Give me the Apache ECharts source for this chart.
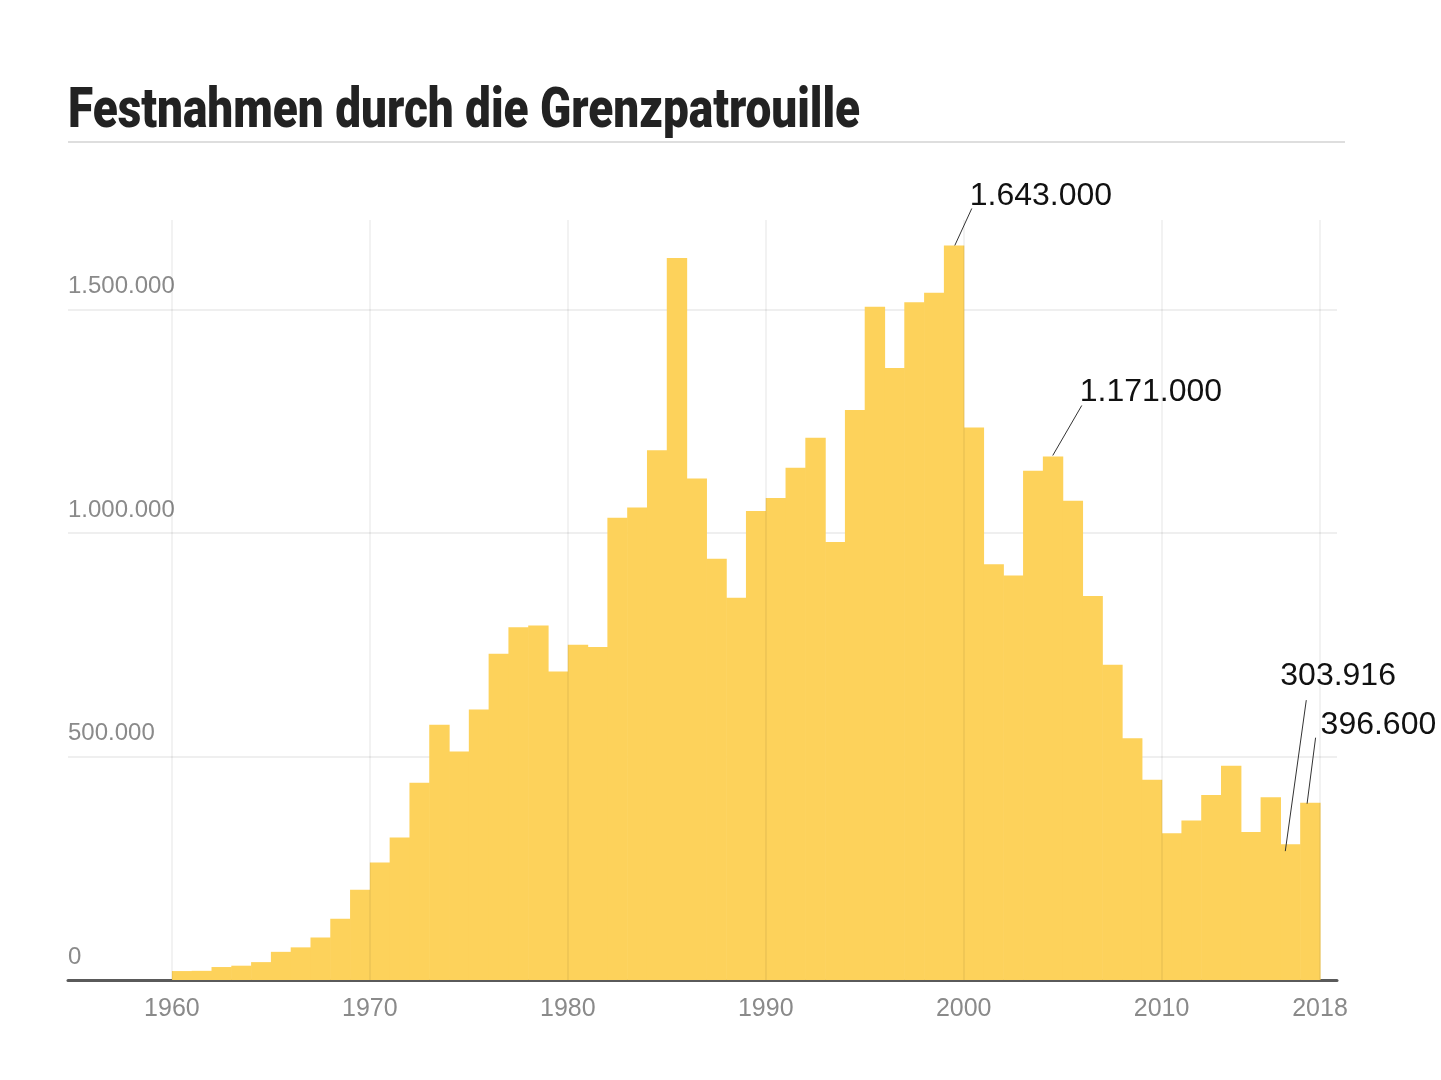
<!DOCTYPE html>
<html>
<head>
<meta charset="utf-8">
<script src="https://cdn.jsdelivr.net/npm/echarts@6/dist/echarts.min.js"></script>
<style>
html,body{margin:0;padding:0;background:#fff;}
#chart{width:1441px;height:1080px;}
</style>
</head>
<body>
<div id="chart"></div>
<script>
// ---------- DATA ----------
const titleText = 'Festnahmen durch die Grenzpatrouille';
const years = [1961,1962,1963,1964,1965,1966,1967,1968,1969,1970,
  1971,1972,1973,1974,1975,1976,1977,1978,1979,1980,
  1981,1982,1983,1984,1985,1986,1987,1988,1989,1990,
  1991,1992,1993,1994,1995,1996,1997,1998,1999,2000,
  2001,2002,2003,2004,2005,2006,2007,2008,2009,2010,
  2011,2012,2013,2014,2015,2016,2017,2018];
const arrests = [20000,20500,29000,32000,40000,63000,73000,95000,137000,202000,
  263000,319000,441000,571000,511000,605000,730000,789000,793000,690000,
  750000,745000,1034000,1057000,1185000,1615000,1122000,942000,855000,1049000,
  1078000,1146000,1213000,980000,1275000,1506000,1369000,1516000,1537000,1643000,
  1236000,930000,905000,1139000,1171000,1072000,859000,705000,541000,448000,
  328000,357000,414000,479000,331000,409000,303916,396600];
const xTicks = [1960,1970,1980,1990,2000,2010,2018];
const yTicks = [0,500000,1000000,1500000];
const annYears = [2000,2005,2017,2018];
const annValues = [1643000,1171000,303916,396600];
const annTexts = ['1.643.000','1.171.000','303.916','396.600'];

// ---------- STYLE ----------
const BAR = '#fdd25b';
// offsets relative to top-centre of the annotated bar: [lineX0,lineY0,lineX1,lineY1,textX,textY]
const annOffsets = [
  [1,0,18,-37,16,-49],
  [0,-1,29,-51,27,-64],
  [-5,7,16,-144,-10,-168],
  [-3,1,5.5,-65,10.5,-78]
];
const fmt = v => String(v).replace(/\B(?=(\d{3})+(?!\d))/g, '.');

const chart = echarts.init(document.getElementById('chart'), null, {renderer:'canvas'});
const barData = years.map((y,i)=>[y, arrests[i]]);

chart.setOption({
  animation:false,
  backgroundColor:'#fff',
  grid:{left:68,right:104,top:220,bottom:100,containLabel:false},
  xAxis:{
    type:'value', min:1954.75, max:2018.86,
    axisLine:{show:true,lineStyle:{color:'#5a5a5a',width:3}},
    axisTick:{show:false},
    splitLine:{show:false},
    axisLabel:{customValues:xTicks, color:'#8a8a8a', fontSize:25, margin:17,
      fontFamily:'Liberation Sans, Arial, sans-serif', formatter:v=>String(v)}
  },
  yAxis:{
    type:'value', min:0, max:1700000, interval:500000,
    axisLine:{show:false}, axisTick:{show:false},
    splitLine:{show:true, showMaxLine:false, lineStyle:{color:'#efefef',width:2}},
    axisLabel:{inside:true, align:'left', verticalAlign:'bottom', margin:0,
      padding:[0,0,11,0], showMaxLabel:false,
      color:'#8a8a8a', fontSize:24, fontFamily:'Liberation Sans, Arial, sans-serif',
      formatter:v=> yTicks.indexOf(v) >= 0 ? fmt(v) : ''}
  },
  series:[
    {
      type:'custom', z:2,
      encode:{x:0,y:1},
      data:barData,
      renderItem:function(params, api){
        const y = api.value(0), v = api.value(1);
        const p0 = api.coord([y-1, v]);
        const p1 = api.coord([y, 0]);
        return {type:'rect',
          shape:{x:p0[0], y:p0[1], width:p1[0]-p0[0]+0.6, height:p1[1]-p0[1]},
          style:{fill:BAR}};
      }
    },
    {
      type:'line', data:[], z:5, silent:true,
      markLine:{silent:true, symbol:['none','none'], animation:false,
        label:{show:false},
        lineStyle:{color:'rgba(0,0,0,0.05)', width:2, type:'solid'},
        data: xTicks.map(v=>({xAxis:v}))}
    }
  ]
});

// annotations & title via library coordinate conversion
const g = [];
g.push({type:'text', x:68, y:85, scaleX:0.82, z:10,
  style:{text:titleText, fill:'#222', font:'900 56px Roboto, "Liberation Sans", sans-serif',
    textAlign:'left', textVerticalAlign:'top'}});
g.push({type:'line', shape:{x1:68,y1:142,x2:1345,y2:142}, style:{stroke:'#dedede', lineWidth:2}, z:10});
annYears.forEach((yr,i)=>{
  const p = chart.convertToPixel({gridIndex:0}, [yr-0.5, annValues[i]]);
  const o = annOffsets[i];
  g.push({type:'line', z:20, shape:{x1:p[0]+o[0], y1:p[1]+o[1], x2:p[0]+o[2], y2:p[1]+o[3]},
    style:{stroke:'#333', lineWidth:1}});
  g.push({type:'text', z:20, x:p[0]+o[4], y:p[1]+o[5],
    style:{text:annTexts[i], fill:'#111', font:'32px "Liberation Sans", Arial, sans-serif',
      textAlign:'left', textVerticalAlign:'middle'}});
});
chart.setOption({graphic:g});
</script>
</body>
</html>
